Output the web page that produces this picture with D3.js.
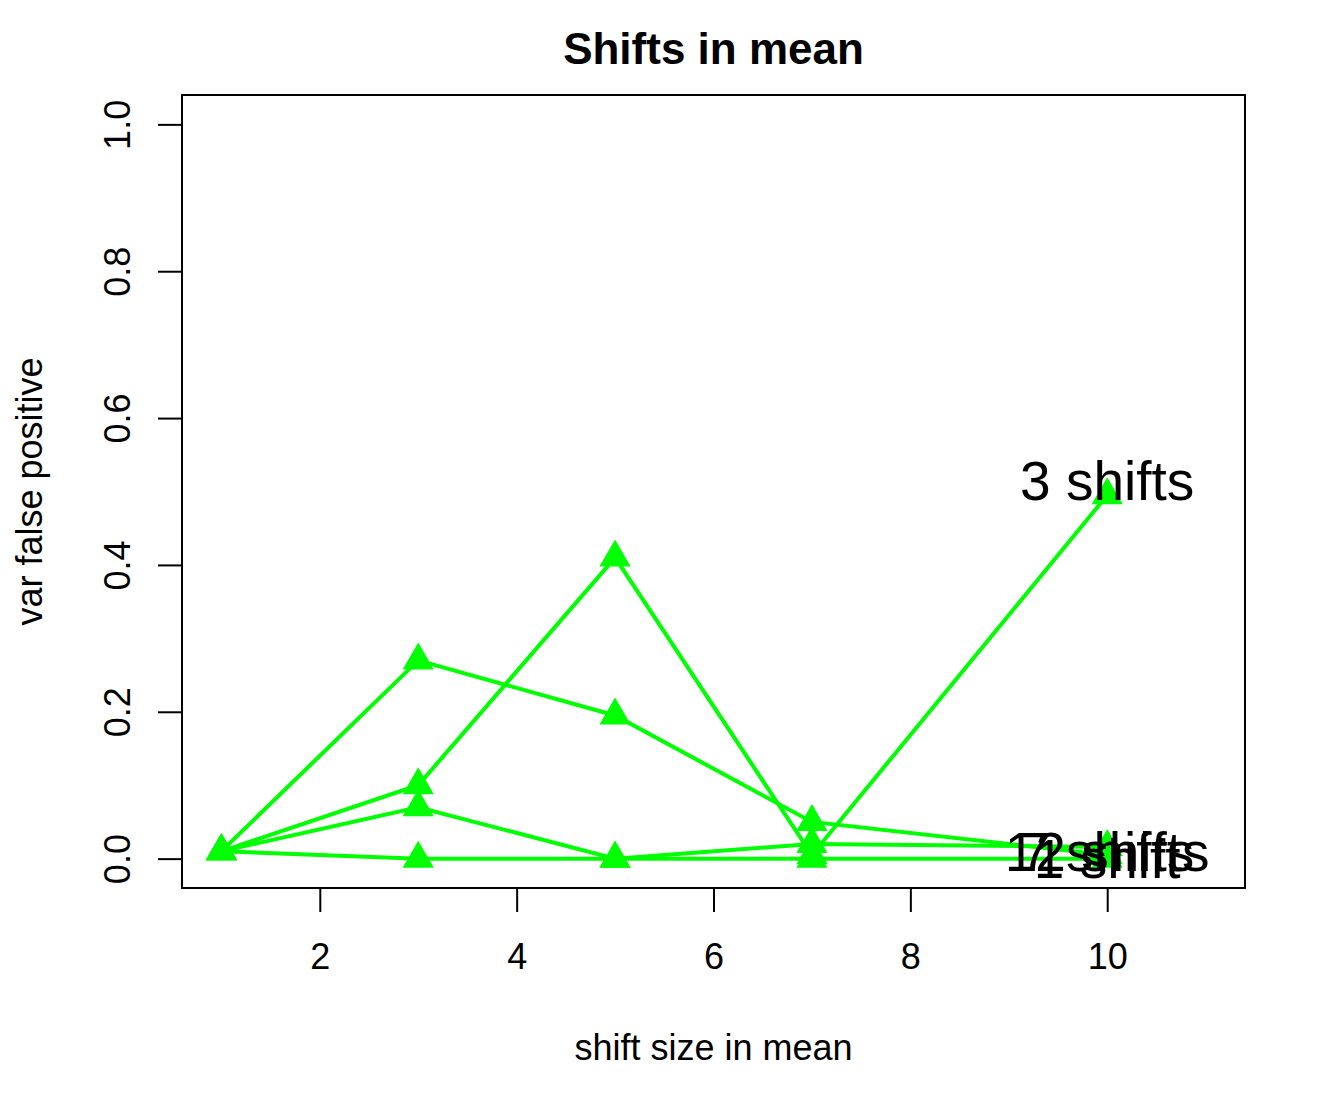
<!DOCTYPE html>
<html><head><meta charset="utf-8">
<script src="https://cdn.jsdelivr.net/npm/d3@7"></script>
<style>body{margin:0;background:#fff}svg{display:block}text{font-family:"Liberation Sans",Arial,sans-serif;fill:#000}</style>
</head><body><div id="chart"></div>
<script>
const shiftSizes = [1, 3, 5, 7, 10];
const seriesNames = ["1 shift", "7 shifts", "3 shifts", "12 shifts"];
const oneShift    = [0.01, 0.00, 0.00, 0.00, 0.00];
const sevenShifts = [0.01, 0.07, 0.00, 0.02, 0.016];
const threeShifts = [0.01, 0.10, 0.41, 0.005, 0.495];
const twelveShifts= [0.01, 0.27, 0.195, 0.05, 0.005];
// vertical anchor (data units) of each end label
const labelValues = [-0.026, -0.017, 0.489, -0.017];
const xTicks = [2, 4, 6, 8, 10];
const yTicks = [0.0, 0.2, 0.4, 0.6, 0.8, 1.0];
const titleText = "Shifts in mean";
const xLabel = "shift size in mean";
const yLabel = "var false positive";

const series = [oneShift, sevenShifts, threeShifts, twelveShifts].map((v, i) => ({name: seriesNames[i], values: v, labelAt: labelValues[i]}));

const W = 1339, H = 1116;
const box = {l: 182, r: 1245, t: 95, b: 888};
const svg = d3.select("#chart").append("svg").attr("width", W).attr("height", H);

const x = d3.scaleLinear().domain([0.6, 11.4]).range([box.l, box.r]);
const y = d3.scaleLinear().domain([-0.04, 1.04]).range([box.b, box.t]);

// axes
const xAxis = d3.axisBottom(x).tickValues(xTicks).tickFormat(d3.format("d")).tickSize(24).tickPadding(31);
const gx = svg.append("g").attr("transform", `translate(0,${box.b})`).call(xAxis);
gx.select(".domain").remove();
gx.selectAll("line").attr("stroke", "#000").attr("stroke-width", 2);
gx.selectAll("text").attr("font-size", 36).attr("fill", "#000").attr("font-family", "Liberation Sans, Arial, sans-serif");

const yAxis = d3.axisLeft(y).tickValues(yTicks).tickFormat(d3.format(".1f")).tickSize(24);
const gy = svg.append("g").attr("transform", `translate(${box.l},0)`).call(yAxis);
gy.select(".domain").remove();
gy.selectAll("line").attr("stroke", "#000").attr("stroke-width", 2);
gy.selectAll("text")
  .attr("font-size", 36).attr("fill", "#000").attr("font-family", "Liberation Sans, Arial, sans-serif")
  .attr("x", null).attr("dy", null)
  .attr("text-anchor", "middle")
  .attr("transform", "translate(-65,0) rotate(-90)")
  .attr("y", 0).attr("dy", "0.35em");

// box
svg.append("rect").attr("x", box.l).attr("y", box.t).attr("width", box.r - box.l).attr("height", box.b - box.t)
  .attr("fill", "none").attr("stroke", "#000").attr("stroke-width", 2);

// lines
const line = d3.line().x((d, i) => x(shiftSizes[i])).y(d => y(d));
const g = svg.append("g");
series.forEach(s => {
  g.append("path").attr("d", line(s.values)).attr("fill", "none").attr("stroke", "#00ff00").attr("stroke-width", 4);
});
const tri = d3.symbol().type({draw(ctx){ const r = 18, h = 15.6; ctx.moveTo(0, -r); ctx.lineTo(h, r/2); ctx.lineTo(-h, r/2); ctx.closePath(); }});
series.forEach(s => {
  s.values.forEach((v, i) => {
    g.append("path").attr("d", tri()).attr("transform", `translate(${x(shiftSizes[i])},${y(v)})`).attr("fill", "#00ff00");
  });
});

// labels
series.forEach(s => {
  svg.append("text").attr("x", x(shiftSizes[shiftSizes.length - 1])).attr("y", y(s.labelAt))
    .attr("text-anchor", "middle").attr("font-size", 55).text(s.name);
});

// titles
svg.append("text").attr("x", (box.l + box.r) / 2).attr("y", 64).attr("text-anchor", "middle")
  .attr("font-size", 44).attr("font-weight", "bold").text(titleText);
svg.append("text").attr("x", (box.l + box.r) / 2).attr("y", 1060).attr("text-anchor", "middle")
  .attr("font-size", 36).text(xLabel);
svg.append("text").attr("transform", `translate(42,${(box.t + box.b) / 2}) rotate(-90)`).attr("text-anchor", "middle")
  .attr("font-size", 36).text(yLabel);
</script></body></html>
